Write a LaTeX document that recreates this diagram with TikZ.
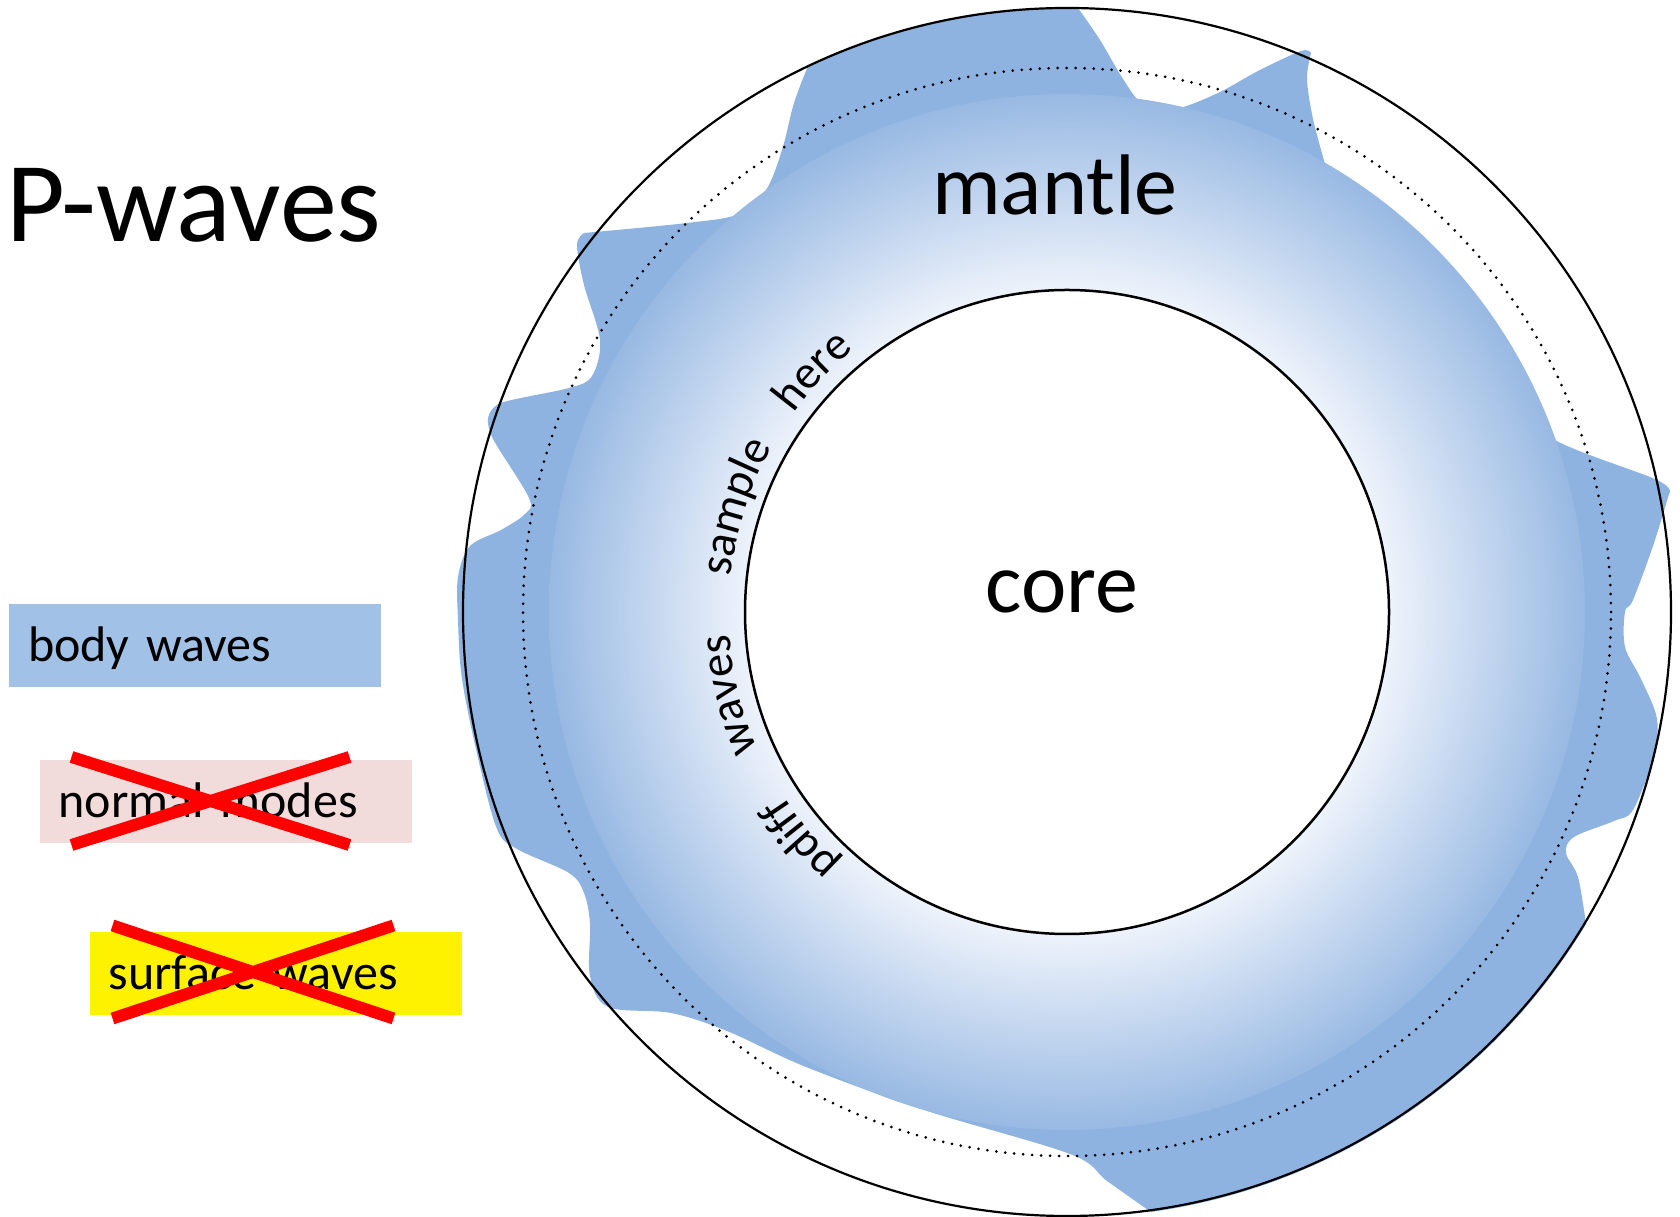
\documentclass[tikz,border=0pt]{standalone}
\usepackage{fontspec}
\setmainfont{Carlito}
\usetikzlibrary{decorations.text}

\definecolor{wavefill}{RGB}{142,179,225}
\definecolor{mantlein}{RGB}{238,243,251}
\definecolor{mantleout}{RGB}{152,185,227}
\definecolor{bodyblue}{RGB}{162,193,231}
\definecolor{modepink}{RGB}{242,220,219}

% light at the core, darker towards the top of the mantle
\pgfdeclareradialshading{mantleglow}{\pgfpoint{0bp}{0bp}}{%
  color(0bp)=(white); color(15.5bp)=(mantlein); color(25bp)=(mantleout); color(50bp)=(mantleout)}

\newcommand\pwavesfont{\fontsize{114}{130}\selectfont}
\newcommand\layerfont{\fontsize{86}{100}\selectfont}
\newcommand\legendfont{\fontsize{50}{60}\selectfont}
\newcommand\arcfont{\fontsize{47}{52}\selectfont}

\begin{document}
\begin{tikzpicture}[x=1pt,y=1pt,
  legendbox/.style={minimum width=372pt, minimum height=83pt, text width=334pt,
    inner xsep=19pt, inner ysep=0pt, align=left, text height=35pt, text depth=3pt,
    font=\legendfont},
  crossout/.style={draw=red, line width=12pt,
    preaction={draw=black, opacity=0.25, transform canvas={shift={(2pt,-3pt)}}}},
  arctext/.style={decorate, decoration={text along path, text={|\arcfont|#1}}}
]
\useasboundingbox (0,0) rectangle (1680,1217);
\coordinate (c) at (1067,605);

% body waves spreading through the mantle
\fill[wavefill]
  plot[smooth, tension=0.55] coordinates {(808,1151) (794,1114) (782,1067) (766,1027) (739,1003) (687,994) (584,984)}
  -- plot[smooth, tension=0.55] coordinates {(584,984) (577,972) (584,932) (600,877) (592,841) (569,829) (501,814) (488,798)}
  -- plot[smooth, tension=0.55] coordinates {(488,798) (493,778) (529,719) (525,703) (501,687) (470,671) (458,640) (458,597)
      (462,538) (478,459) (497,388) (517,368) (569,344) (584,324) (590,293) (590,241) (608,210) (671,204) (727,186)
      (806,150) (924,107) (1070,63) (1107,36) (1151,5)}
  arc[start angle=-82, end angle=-31, radius=606]
  -- plot[smooth, tension=0.55] coordinates {(1586,293) (1578,340) (1566,364) (1574,380) (1614,396) (1633,407) (1653,459)
      (1657,498) (1641,538) (1625,570) (1625,605) (1633,617) (1653,671) (1669,723)}
  -- plot[smooth, tension=0.55] coordinates {(1669,723) (1657,737) (1550,780) (1536,823)}
  arc[start angle=25, end angle=60, radius=517]
  -- plot[smooth, tension=0.55] coordinates {(1325,1053) (1313,1098) (1307,1138) (1311,1164)}
  -- plot[smooth, tension=0.55] coordinates {(1311,1164) (1301,1166) (1258,1146) (1218,1124) (1175,1108) (1143,1113)
      (1123,1138) (1100,1177) (1078,1209)}
  arc[start angle=89, end angle=115.4, radius=604]
  -- cycle;

% layers
\node[circle, inner sep=0, minimum size=1036pt, shade, shading=mantleglow] (mantledisc) at (c) {};
\node[circle, draw, inner sep=0, minimum size=1088pt, line width=3pt, line cap=round,
  dash pattern=on 0pt off 9pt] (dots) at (c) {};
\node[circle, draw, inner sep=0, minimum size=1208pt, line width=2.2pt] (earth) at (c) {};
\node[circle, draw, fill=white, inner sep=0, minimum size=644pt, line width=2.5pt] (core) at (c) {};

\node[font=\layerfont, anchor=base] (mantlelabel) at (1055,1002) {mantle};
\node[font=\layerfont, anchor=base] (corelabel) at (1062,604) {core};

% words bent round the core
\path[arctext=pdiff] ([shift={(228:338)}]c) arc[start angle=228, end angle=195, radius=338];
\path[arctext=waves] ([shift={(204:338)}]c) arc[start angle=204, end angle=170, radius=338];
\path[arctext=sample] ([shift={(174:338)}]c) arc[start angle=174, end angle=140, radius=338];
\path[arctext=here] ([shift={(144:338)}]c) arc[start angle=144, end angle=110, radius=338];

% title and legend
\node[font=\pwavesfont, anchor=base west, inner sep=0] (title) at (6,975) {P-waves};
\node[legendbox, fill=bodyblue] (body) at (195,571.5) {body waves};
\node[legendbox, fill=modepink] (modes) at (225.5,415) {normal modes};
\node[legendbox, fill=yellow] (surface) at (275.5,243.5) {surface waves};

\draw[crossout, shift={(modes.center)}] (-154,45) -- (124,-43) (-154,-43) -- (124,45);
\draw[crossout, shift={(surface.center)}] (-163,48) -- (118,-45) (-163,-45) -- (118,48);
\end{tikzpicture}
\end{document}
